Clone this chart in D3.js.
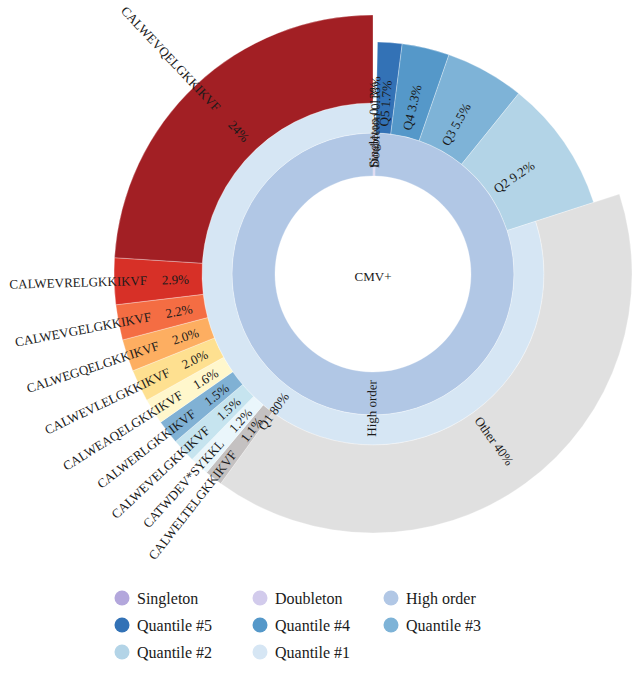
<!DOCTYPE html>
<html><head><meta charset="utf-8">
<script src="https://cdn.jsdelivr.net/npm/d3@7"></script>
<style>
html,body{margin:0;padding:0;background:#fff;}
svg{display:block;}
</style></head><body>
<svg id="chart" width="633" height="674"></svg>
<script>
// ---------------- data ----------------
const rootName = "CMV+";
const orderNames = ["Singleton", "Doubleton", "High order"];
const orderValues = [0.13, 0.18, null];           // High order = sum of quantiles
const quantileNames = ["Q5", "Q4", "Q3", "Q2", "Q1"];
const quantileValues = [1.7, 3.3, 5.5, 9.2, null]; // Q1 = sum of its clonotypes
const clonotypeNames = ["Other", "CALWELTELGKKIKVF", "CATWDEV*SYKKL", "CALWEVELGKKIKVF",
  "CALWERLGKKIKVF", "CALWEAQELGKKIKVF", "CALWEVLELGKKIKVF", "CALWEGQELGKKIKVF",
  "CALWEVGELGKKIKVF", "CALWEVRELGKKIKVF", "CALWEVQELGKKIKVF"];
const clonotypeValues = [40, 1.1, 1.2, 1.5, 1.5, 1.6, 2.0, 2.0, 2.2, 2.9, 24];
const legendLabels = ["Singleton", "Doubleton", "High order", "Quantile #5", "Quantile #4",
  "Quantile #3", "Quantile #2", "Quantile #1"];

// ---------------- styles ----------------
const FONT = "'Liberation Serif', 'DejaVu Serif', serif";
const nodeColors = {
  "Singleton": "#b3a7dc", "Doubleton": "#d2cbec", "High order": "#b1c7e5",
  "Q5": "#3372b6", "Q4": "#5598c9", "Q3": "#7eb3d7", "Q2": "#b3d4e7", "Q1": "#d6e6f4"
};
const clonotypeColors = ["#e0e0e0", "#c4c1c1", "#eaf6fb", "#c6e4ef", "#80b1d4", "#fff7cc",
  "#fee090", "#fdae61", "#f46d43", "#d73027", "#a21f24"];
const legendColors = ["#b3a7dc", "#d2cbec", "#b1c7e5", "#3372b6", "#5598c9", "#7eb3d7", "#b3d4e7", "#d6e6f4"];

const W = 633, H = 674, cx = 373, cy = 274;
const ringInner = [0, 98, 141, 171];   // by depth
const leafOuter = [0, 141, 232, 259];  // by depth

// ---------------- hierarchy ----------------
const tree = {
  name: rootName,
  children: orderNames.map((n, i) => n === "High order"
    ? { name: n, children: quantileNames.map((q, j) => q === "Q1"
        ? { name: q, children: clonotypeNames.map((c, k) => ({ name: c, value: clonotypeValues[k], idx: k })) }
        : { name: q, value: quantileValues[j] }) }
    : { name: n, value: orderValues[i] })
};
const root = d3.hierarchy(tree).sum(d => d.value || 0);
d3.partition().size([1, 3])(root);

const angle = d3.scaleLinear().domain([0, 1]).range([0, 2 * Math.PI]);
const inner = d => ringInner[d.depth];
const outer = d => d.children ? ringInner[d.depth + 1] : leafOuter[d.depth];

const arc = d3.arc()
  .startAngle(d => angle(d.x0))
  .endAngle(d => angle(d.x1))
  .innerRadius(inner)
  .outerRadius(outer);

const svg = d3.select("#chart").attr("font-family", FONT);
svg.append("rect").attr("width", W).attr("height", H).attr("fill", "#fff");
const g = svg.append("g").attr("transform", `translate(${cx},${cy})`);

const nodes = root.descendants().filter(d => d.depth > 0);
g.selectAll("path").data(nodes).join("path")
  .attr("d", arc)
  .attr("fill", d => d.depth === 3 ? clonotypeColors[d.data.idx] : nodeColors[d.data.name])
  .attr("stroke", "#fff").attr("stroke-width", 0.5).attr("stroke-opacity", 0.6);

const pct = v => v >= 10 ? d3.format(".0f")(v) + "%" : v >= 1 ? d3.format(".1f")(v) + "%" : d3.format(".2f")(v) + "%";

function label(d, r, text) {
  const mid = (angle(d.x0) + angle(d.x1)) / 2 * 180 / Math.PI;
  const flip = mid > 180;
  g.append("text")
    .attr("transform", `rotate(${mid - 90}) translate(${r},0) rotate(${flip ? 180 : 0})`)
    .attr("text-anchor", flip ? "end" : "start")
    .attr("dy", "0.35em")
    .attr("font-family", FONT)
    .attr("font-size", 13)
    .attr("fill", "#1a1a1a")
    .text(text);
}

nodes.forEach(d => {
  const v = d.value;
  if (d.depth === 1) {
    label(d, inner(d) + 8, d.data.name === "High order" ? d.data.name : d.data.name + " " + pct(v));
  } else if (d.depth === 2) {
    label(d, inner(d) + 7, d.data.name + " " + pct(v));
  } else if (d.data.name === "Other") {
    label(d, inner(d) + 7, d.data.name + " " + pct(v));
  } else {
    label(d, 184, pct(v));
    label(d, 226, d.data.name);
  }
});

g.append("text").attr("text-anchor", "middle").attr("dy", "0.35em")
  .attr("y", 2).attr("font-family", FONT).attr("font-size", 13).attr("fill", "#1a1a1a").text(rootName);

// ---------------- legend ----------------
const colX = [122, 260, 391], rowY = [598, 625, 652];
const lg = svg.append("g");
legendLabels.forEach((name, i) => {
  const x = colX[i % 3], y = rowY[Math.floor(i / 3)];
  lg.append("circle").attr("cx", x).attr("cy", y).attr("r", 7.5).attr("fill", legendColors[i]);
  lg.append("text").attr("x", x + 15).attr("y", y).attr("dy", "0.35em")
    .attr("font-family", FONT).attr("font-size", 16).attr("fill", "#1a1a1a").text(name);
});
</script>
</body></html>
